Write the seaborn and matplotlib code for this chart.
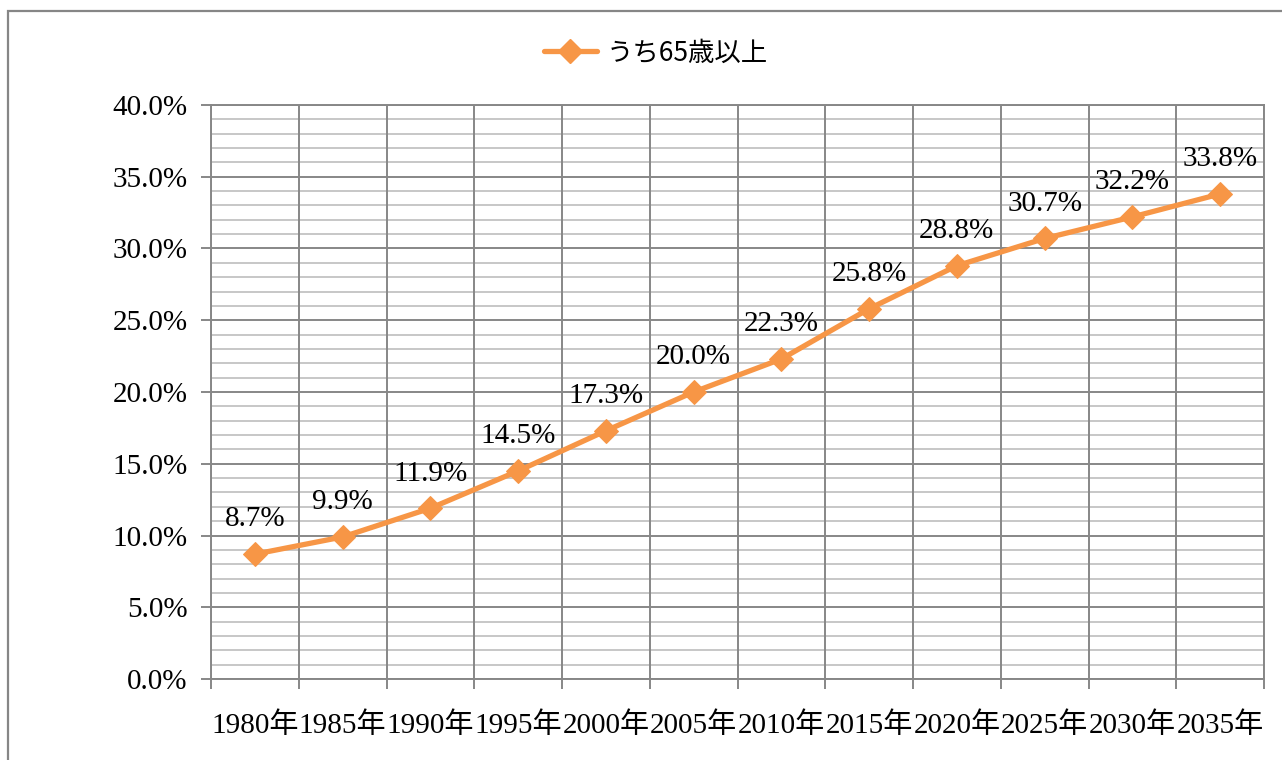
import matplotlib
matplotlib.use("Agg")
import matplotlib.pyplot as plt
import matplotlib.patches as mpatches
from matplotlib.lines import Line2D
import seaborn as sns
import pandas as pd
import numpy as np

categories = ["1980年", "1985年", "1990年", "1995年", "2000年", "2005年",
              "2010年", "2015年", "2020年", "2025年", "2030年", "2035年"]
values = [8.7, 9.9, 11.9, 14.5, 17.3, 20.0, 22.3, 25.8, 28.8, 30.7, 32.2, 33.8]
series_name = "うち65歳以上"
y_ticks = [0, 5, 10, 15, 20, 25, 30, 35, 40]

sns.set_theme(style="white")
plt.rcParams['font.family'] = ['Liberation Serif', 'Noto Sans CJK JP']
plt.rcParams['text.color'] = 'black'
plt.rcParams['xtick.labelcolor'] = 'black'
plt.rcParams['ytick.labelcolor'] = 'black'

ORANGE = "#F79646"
MAJ = "#878787"
MIN = "#c3c3c3"
FS = 21

fig = plt.figure(figsize=(12.82, 7.60), dpi=100)
ax = fig.add_axes([211/1282, 1-679/760, (1264-211)/1282, (679-105)/760])

df = pd.DataFrame({"cat": categories, "val": values})
df["pos"] = np.arange(len(categories))
sns.lineplot(data=df, x="pos", y="val", ax=ax, color=ORANGE, linewidth=3.8,
             marker="D", markersize=12, markeredgecolor=ORANGE, zorder=5)

ax.set_xlim(-0.5, len(categories) - 0.5)
ax.set_ylim(0, 40)

ax.set_yticks(y_ticks)
ax.set_yticklabels([f"{t:.1f}%" for t in y_ticks], fontsize=FS, color="black")
ax.grid(False)
for y in np.arange(0, 41, 1):
    if y % 5 != 0:
        ax.axhline(y, color=MIN, linewidth=1.3, zorder=1)
for y in y_ticks:
    ax.axhline(y, color=MAJ, linewidth=1.4, zorder=2)

bounds = np.arange(-0.5, len(categories), 1.0)
for b in bounds:
    ax.axvline(b, color=MAJ, linewidth=1.4, zorder=2)

ax.set_xticks(df["pos"])
ax.set_xticklabels(categories, fontsize=FS, color="black")
ax.set_xticks(bounds, minor=True)
ax.tick_params(axis="x", which="major", length=0, pad=24)
ax.tick_params(axis="x", which="minor", length=7, width=1.4, color=MAJ, direction="out", bottom=True)
ax.tick_params(axis="y", which="major", length=7, width=1.4, color=MAJ, direction="out", pad=10, left=True)
ax.tick_params(axis="y", which="minor", length=0)
ax.set_xlabel("")
ax.set_ylabel("")
for s in ax.spines.values():
    s.set_color(MAJ)
    s.set_linewidth(1.4)

for p, v in zip(df["pos"], df["val"]):
    ax.annotate(f"{v:.1f}%", (p, v), xytext=(0, 25), textcoords="offset points",
                ha="center", va="center", fontsize=FS, color="black", zorder=6)

handle = Line2D([0], [0], color=ORANGE, linewidth=3.8, marker="D", markersize=12)
fig.legend([handle], [series_name], loc="center", bbox_to_anchor=(656/1282, 1-53/760),
           frameon=False, handlelength=2.0, handletextpad=0.4,
           prop={"family": ["Noto Sans CJK JP"], "size": 19}, labelcolor="black")

top = 1 - 11/760
frame = mpatches.Rectangle((8/1282, -0.2), 1.2, top + 0.2, transform=fig.transFigure,
                           fill=False, edgecolor="#868686", linewidth=1.6, clip_on=False)
fig.patches.append(frame)

fig.savefig("out.png", dpi=100)
